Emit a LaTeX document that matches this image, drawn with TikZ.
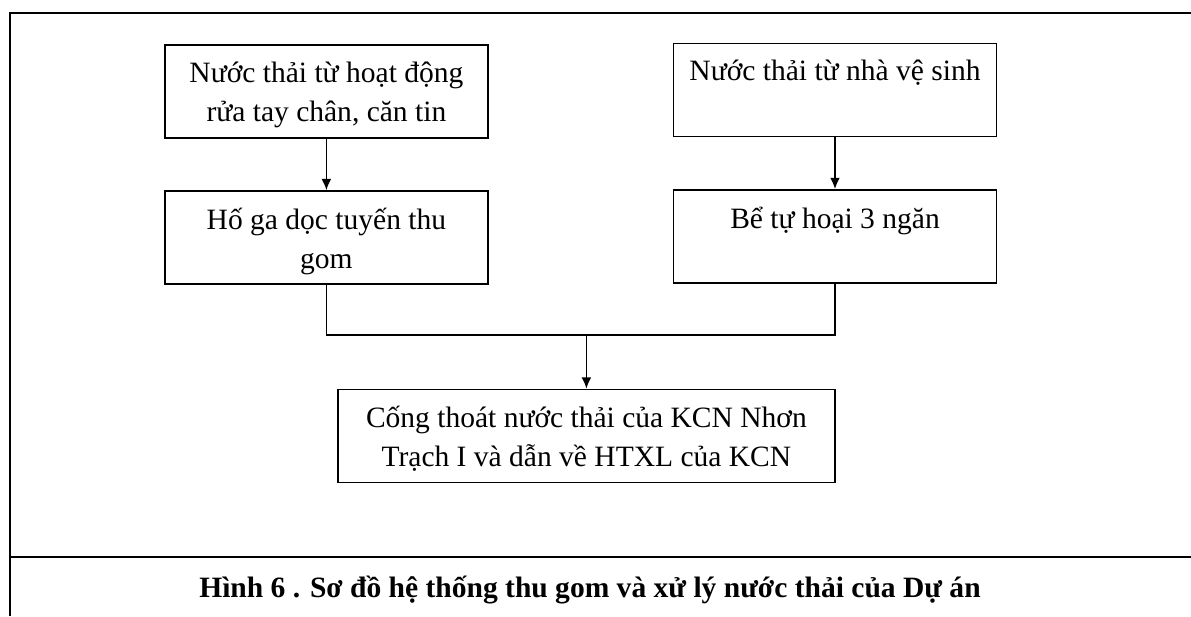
\documentclass[tikz,border=0pt]{standalone}
\usepackage{fontspec}
\setmainfont{Liberation Serif}
\usetikzlibrary{arrows.meta}
\newcommand{\boxtext}[2]{\parbox[c][2.33cm][t]{#1}{\centering\vspace*{0.42cm}#2}}

\begin{document}
\begin{tikzpicture}[font=\fontsize{21}{28}\selectfont,
  stage/.style={draw=black,line width=1.1pt,inner sep=0pt},
  flow/.style={line width=1.1pt,-{Latex[length=8pt,width=7pt]}}]

\useasboundingbox (0, 0) rectangle (29.775, -15.4);

% frame of the figure
\draw [line width=1.1pt] (0.25, -15.4) -- (0.25, -0.325) -- (29.775, -0.325);
\draw [line width=1.1pt] (0.25, -13.925) -- (29.775, -13.925);

\node[stage] (rua) at (8.16, -2.29) {\boxtext{8.08cm}{Nước thải từ hoạt động\\rửa tay chân, căn tin}};
\node[stage] (hoga) at (8.16, -5.94) {\boxtext{8.08cm}{Hố ga dọc tuyến thu\\gom}};
\node[stage] (vesinh) at (20.875, -2.25) {\boxtext{8.08cm}{Nước thải từ nhà vệ sinh}};
\node[stage] (behoai) at (20.875, -5.91) {\boxtext{8.08cm}{Bể tự hoại 3 ngăn}};
\node[stage] (cong) at (14.66, -10.9) {\boxtext{12.43cm}{Cống thoát nước thải của KCN Nhơn\\Trạch I và dẫn về HTXL của KCN}};

\coordinate (join) at (14.66, -8.375);

\draw [flow] (rua) -- (hoga);
\draw [flow] (vesinh) -- (behoai);
\draw [line width=1.1pt] (hoga.south) |- (join) -| (behoai.south);
\draw [flow] (join) -- (join |- cong.north);

\node[font=\fontsize{21}{24}\selectfont\bfseries] (caption) at (14.75, -14.75) {Hình 6 . Sơ đồ hệ thống thu gom và xử lý nước thải của Dự án};

\end{tikzpicture}
\end{document}
